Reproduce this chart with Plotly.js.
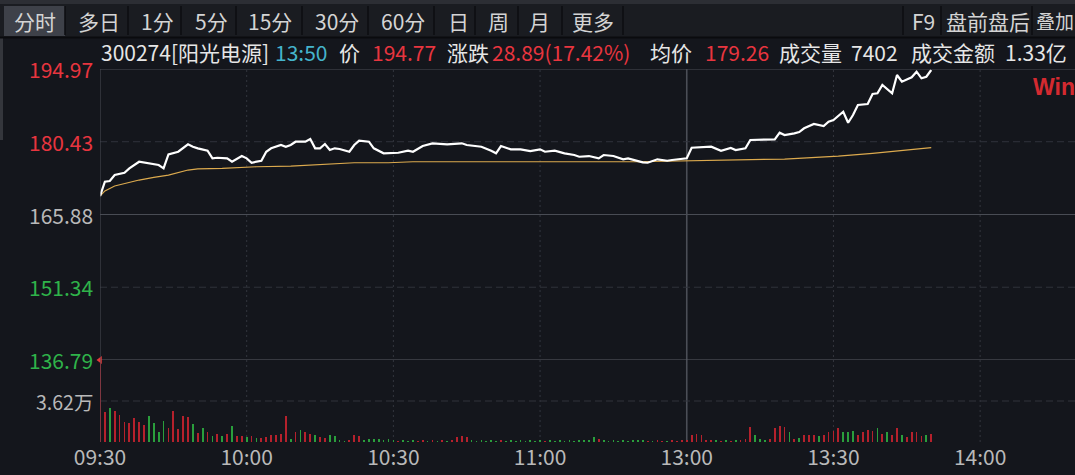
<!DOCTYPE html>
<html><head><meta charset="utf-8">
<script src="https://cdn.plot.ly/plotly-3.0.1.min.js"></script>
<style>html,body{margin:0;padding:0;background:#14161c;overflow:hidden}#chart{width:1075px;height:475px}</style>
</head><body><div id="chart"></div>
<script>
// ---------- data (minutes counted in trading time from 09:30) ----------
const axisMins  = [0, 30, 60, 90, 120, 150, 180];
const axisTimes = ['09:30','10:00','10:30','11:00','13:00','13:30','14:00'];
const priceTicks = [194.97, 180.43, 165.88, 151.34, 136.79];
const prevClose = 165.88;
const volTick = 3.62;          // 万
const volMax  = 7.24;          // 万

const priceMin = [0,1,2,3,5,6,8,10,12,13,14,16,18,19,20,22,23,24,26,27,29,30,31,33,34,35,37,38,39,40,42,43,44,45,46,47,48,49,51,52,53,55,56,58,59,61,63,64,66,68,71,74,75,78,80,81,82,84,86,88,90,91,93,95,97,98,100,102,103,105,107,108,111,112,114,116,117,119,120,121,123,125,127,129,130,132,133,135,138,139,140,142,143,144,146,148,149,150,151,152,153,154,155,157,158,159,160,161,162,163,164,166,167,168,169,170];
const priceVal = [169.57,172.43,172.57,173.77,174.23,175.11,176.43,176.11,175.77,175.11,177.91,178.43,179.91,179.43,179.11,178.63,177.11,177.23,177.11,176.43,177.57,177.11,176.23,176.63,178.43,179.11,179.77,179.43,179.77,180.43,180.43,180.97,179.11,179.11,179.97,178.77,179.11,178.97,178.43,179.77,180.63,180.43,179.11,178.11,178.11,178.23,178.63,178.43,179.57,180.11,179.91,180.11,179.77,179.43,178.63,178.11,179.57,178.91,178.91,178.57,178.91,178.43,178.63,178.11,177.77,177.43,177.57,177.11,177.77,177.57,176.91,177.11,176.31,176.23,176.91,176.63,176.77,176.91,177.11,179.23,179.31,179.43,178.63,179.17,178.77,179.11,180.77,180.77,180.91,182.23,181.77,182.11,182.37,183.11,183.97,183.57,184.43,184.77,185.57,186.43,184.23,185.77,187.77,187.97,189.97,190.11,191.77,190.91,190.11,193.77,192.43,193.31,194.43,193.11,193.43,194.77];

const avgMin = [0,1,3,5,8,11,14,18,20,25,32,39,46,52,59,64,110,120,134,140,151,158,170];
const avgVal = [169.57,170.6,171.57,172.1,172.77,173.3,173.77,174.77,175.0,175.11,175.43,175.57,175.97,176.23,176.23,176.43,176.43,176.57,176.77,176.97,177.57,178.11,179.26];

// volume per minute (万), direction r = up / g = down
const volVal = [7.24,2.62,3.00,2.76,2.38,1.74,1.70,2.09,1.79,1.50,2.27,1.68,0.91,1.88,1.21,2.76,1.18,2.27,2.20,1.59,
0.79,1.21,0.88,0.56,0.74,0.56,0.74,1.44,0.53,0.56,0.44,0.53,0.35,0.35,0.44,0.65,0.65,0.74,2.33,0.30,
0.91,1.09,0.91,0.71,0.65,0.44,0.35,0.60,0.55,0.15,0.12,0.15,0.65,0.50,0.15,0.25,0.30,0.25,0.20,0.25,
0.15,0.12,0.15,0.12,0.15,0.12,0.18,0.12,0.15,0.12,0.15,0.12,0.18,0.45,0.50,0.40,0.15,0.12,0.15,0.12,
0.15,0.12,0.18,0.12,0.15,0.12,0.15,0.12,0.15,0.12,0.15,0.12,0.15,0.12,0.15,0.12,0.15,0.12,0.15,0.18,
0.20,0.40,0.30,0.15,0.12,0.15,0.12,0.15,0.12,0.15,0.20,0.18,0.12,0.10,0.15,0.12,0.12,0.15,0.12,0.15,
0.20,0.65,0.70,0.60,0.15,0.20,0.15,0.12,0.15,0.12,0.20,0.15,0.25,1.32,0.60,0.30,0.20,0.25,1.20,1.40,
1.30,0.90,0.30,0.35,0.65,0.65,0.60,0.55,0.65,0.90,1.00,1.20,0.90,0.90,1.00,0.60,0.90,1.10,1.00,1.20,
0.70,0.90,0.60,1.20,0.60,0.45,0.90,0.90,0.55,0.60,0.70];
const volDir = ['r','r','g','r','r','r','r','r','r','r','g','g','g','g','r','r','r','r','r','g',
'r','g','r','g','r','g','r','g','r','r','g','r','g','r','r','r','r','r','r','g',
'r','g','r','r','g','r','r','g','g','g','g','r','r','r','g','g','g','g','g','g',
'g','r','g','g','g','r','r','g','r','g','r','g','r','r','r','r','g','g','g','g',
'g','g','r','g','g','g','g','g','g','g','g','r','g','g','g','g','g','g','g','g',
'g','g','r','g','g','g','g','g','g','g','g','g','r','g','r','r','g','r','r','r',
'r','r','r','r','r','r','g','r','g','r','g','r','r','r','g','g','g','r','r','r',
'r','g','r','g','r','r','r','g','r','r','r','r','g','g','g','r','r','r','r','g',
'r','g','r','r','g','r','r','r','r','g','r'];

const toolbarItems = ['分时','多日','1分','5分','15分','30分','60分','日','周','月','更多','F9','盘前盘后','叠加'];
const infoItems = [
  ['300274[阳光电源]','#e6e6e6'],['13:50','#45b4cc'],['价','#e6e6e6'],['194.77','#e8353f'],
  ['涨跌','#e6e6e6'],['28.89(17.42%)','#e8353f'],['均价','#e6e6e6'],['179.26','#e8353f'],
  ['成交量','#e6e6e6'],['7402','#e6e6e6'],['成交金额','#e6e6e6'],['1.33亿','#e6e6e6']
];

// ---------- layout helpers (pixel positions) ----------
const L = 100, T = 69, PW = 975, PH = 373;
const px = x => (x - L) / PW;
const py = y => (T + PH - y) / PH;
const FONT = "'Noto Sans CJK SC','Noto Sans',sans-serif";
const RED = '#e8353f', GREEN = '#2fb34a', GRAY = '#b9b9b9';

const toolbarX = [13,77,140,194,247,314,380,447,487,528,571,911,945,1035];
const toolbarSep = [65,128,181,236,302,368,434,475,518,562,623,903,941,1032];
const infoX = [100,274,338,371,446,491,649,704,778,850,910,1004];

const shapes = [];
const annotations = [];

// toolbar background
shapes.push({type:'rect',xref:'paper',yref:'paper',x0:px(0),x1:px(1075),y0:py(37),y1:py(4),fillcolor:'#1a1c21',line:{width:0},layer:'below'});
shapes.push({type:'rect',xref:'paper',yref:'paper',x0:px(0),x1:px(1075),y0:py(4),y1:py(0),fillcolor:'#2c2e34',line:{width:0},layer:'below'});
shapes.push({type:'rect',xref:'paper',yref:'paper',x0:px(4),x1:px(65),y0:py(36),y1:py(6),fillcolor:'#3e4149',line:{width:0},layer:'below'});
shapes.push({type:'line',xref:'paper',yref:'paper',x0:px(0),x1:px(1075),y0:py(37.5),y1:py(37.5),line:{color:'#0a0b0e',width:2}});
toolbarSep.forEach(sx => shapes.push({type:'line',xref:'paper',yref:'paper',x0:px(sx),x1:px(sx),y0:py(35),y1:py(6),line:{color:'#0c0d10',width:1.5}}));
shapes.push({type:'rect',xref:'paper',yref:'paper',x0:px(0),x1:px(3),y0:py(140),y1:py(38),fillcolor:'#34363c',line:{width:0},layer:'below'});

toolbarItems.forEach((t,i) => annotations.push({text:t,xref:'paper',yref:'paper',x:px(toolbarX[i]),y:py(21),xanchor:'left',yanchor:'middle',showarrow:false,borderpad:0,
  font:{family:FONT,size: i === toolbarItems.length-1 ? 19 : 21,color:'#d4d4d4'}}));
infoItems.forEach((it,i) => annotations.push({text:it[0],xref:'paper',yref:'paper',x:px(infoX[i]),y:py(51.5),xanchor:'left',yanchor:'middle',showarrow:false,borderpad:0,font:{family:FONT,size:21,color:it[1]}}));

// watermark
annotations.push({text:'<b>Win</b>',xref:'paper',yref:'paper',x:px(1032),y:py(87),xanchor:'left',yanchor:'middle',showarrow:false,borderpad:0,font:{family:"'Liberation Sans',Arial,sans-serif",size:23,color:'#d42a30'}});

// price tick labels
priceTicks.forEach(v => annotations.push({text:v.toFixed(2),xref:'paper',yref:'y',x:0,y:v,xanchor:'right',yanchor:'middle',xshift:-6,showarrow:false,borderpad:0,
  font:{family:FONT,size:21,color: v > prevClose ? RED : (v < prevClose ? GREEN : GRAY)}}));
annotations.push({text:volTick.toFixed(2)+'万',xref:'paper',yref:'y2',x:0,y:volTick,xanchor:'right',yanchor:'middle',xshift:-6,showarrow:false,borderpad:0,font:{family:FONT,size:19.5,color:GRAY}});

// grid & borders
const XMAX = 199.4;
shapes.push({type:'line',xref:'x',yref:'y',x0:0,x1:XMAX,y0:priceTicks[0],y1:priceTicks[0],line:{color:'#4a4c54',width:1}});
[priceTicks[1],priceTicks[3]].forEach(v => shapes.push({type:'line',xref:'x',yref:'y',x0:0,x1:XMAX,y0:v,y1:v,layer:'below',line:{color:'#30333b',width:1,dash:'7px,4px'}}));
shapes.push({type:'line',xref:'x',yref:'y',x0:0,x1:XMAX,y0:prevClose,y1:prevClose,layer:'below',line:{color:'#494c54',width:1}});
shapes.push({type:'line',xref:'x',yref:'y',x0:0,x1:XMAX,y0:priceTicks[4],y1:priceTicks[4],layer:'below',line:{color:'#5a5d65',width:1}});
shapes.push({type:'line',xref:'x',yref:'y2',x0:0,x1:XMAX,y0:volTick,y1:volTick,layer:'below',line:{color:'#30333b',width:1,dash:'7px,4px'}});
[30,60,90,150,180].forEach(m => shapes.push({type:'line',xref:'x',yref:'paper',x0:m,x1:m,y0:0,y1:1,layer:'below',line:{color:'#33363e',width:1,dash:'2px,3px'}}));
shapes.push({type:'line',xref:'x',yref:'paper',x0:120,x1:120,y0:0,y1:1,layer:'below',line:{color:'#4b4e56',width:1.6}});
shapes.push({type:'line',xref:'x',yref:'paper',x0:0,x1:0,y0:0,y1:1,line:{color:'#4a4c54',width:1}});

const volMins = volVal.map((v,i) => i);
const traces = [
  {type:'bar',x:volMins,y:volVal,xaxis:'x',yaxis:'y2',width:0.36,hoverinfo:'skip',
   marker:{color:volDir.map(d => d === 'r' ? '#b5212c' : '#2a9e3c'),line:{width:0}}},
  {type:'scatter',mode:'lines',x:avgMin,y:avgVal,xaxis:'x',yaxis:'y',line:{color:'#dcaa4e',width:1.2},hoverinfo:'skip'},
  {type:'scatter',mode:'lines',x:priceMin,y:priceVal,xaxis:'x',yaxis:'y',line:{color:'#ffffff',width:2.2},hoverinfo:'skip'},
  {type:'scatter',mode:'markers',x:[volMins[0]],y:[volVal[0]],xaxis:'x',yaxis:'y2',cliponaxis:false,hoverinfo:'skip',
   marker:{symbol:'triangle-left',size:7,color:'#e23b3b'}}
];

const layout = {
  width:1075,height:475,margin:{l:L,r:0,t:T,b:475-T-PH,pad:0},
  paper_bgcolor:'#14161c',plot_bgcolor:'rgba(0,0,0,0)',showlegend:false,bargap:0,
  xaxis:{range:[0,XMAX],anchor:'y2',tickvals:axisMins,ticktext:axisTimes,ticks:'',ticklabelstandoff:1,
    tickfont:{family:FONT,size:21,color:GRAY},showgrid:false,zeroline:false,showline:false,fixedrange:true},
  yaxis:{domain:[(PH-(360-T))/PH,1],range:[priceTicks[4],priceTicks[0]],showticklabels:false,showgrid:false,zeroline:false,showline:false,fixedrange:true},
  yaxis2:{domain:[0,(PH-(360-T))/PH],range:[0,volMax],showticklabels:false,showgrid:false,zeroline:false,showline:false,fixedrange:true},
  shapes:shapes,annotations:annotations
};

Plotly.newPlot('chart',traces,layout,{staticPlot:true,displayModeBar:false});
</script></body></html>
